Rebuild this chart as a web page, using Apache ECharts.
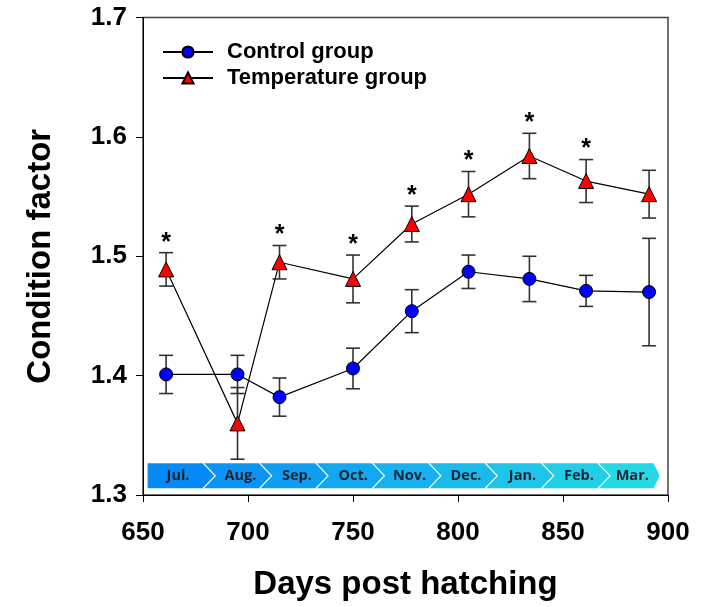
<!DOCTYPE html>
<html><head><meta charset="utf-8">
<script src="https://cdn.jsdelivr.net/npm/echarts@6/dist/echarts.min.js"></script>
<style>html,body{margin:0;padding:0;background:#fff}#c{width:702px;height:607px}</style>
</head><body><div id="c"></div>
<script>
// ---- data ----
const days = [661, 695, 715, 750, 778, 805, 834, 861, 891];
const controlMean = [1.401, 1.401, 1.382, 1.406, 1.454, 1.487, 1.481, 1.471, 1.470];
const controlSE   = [0.016, 0.016, 0.016, 0.017, 0.018, 0.014, 0.019, 0.013, 0.045];
const tempMean    = [1.489, 1.360, 1.495, 1.481, 1.527, 1.552, 1.584, 1.563, 1.552];
const tempSE      = [0.014, 0.030, 0.014, 0.020, 0.015, 0.019, 0.019, 0.018, 0.020];
const significant = [1, 0, 1, 1, 1, 1, 1, 1, 0];
const months = ['Jul.', 'Aug.', 'Sep.', 'Oct.', 'Nov.', 'Dec.', 'Jan.', 'Feb.', 'Mar.'];

// ---- layout constants ----
const FONT = '"Liberation Sans", Arial, Helvetica, sans-serif';
const bandStartDay = 652.2, bandPeriod = 26.86, bandTopVal = 1.3266, bandBotVal = 1.3056;
const colA = [8, 138, 246], colB = [36, 216, 230];

function mix(i){
  const t = i / (months.length - 1);
  const c = colA.map((a, k) => Math.round(a + (colB[k] - a) * t));
  return 'rgb(' + c.join(',') + ')';
}

function errSeries(name, vals, errs, stars){
  return {
    type: 'custom', name: name, coordinateSystem: 'cartesian2d', silent: true, z: 3,
    data: days.map((d, i) => [d, vals[i], errs[i], stars ? stars[i] : 0]),
    encode: {x: 0, y: 1},
    renderItem: function(params, api){
      const x = api.value(0), y = api.value(1), e = api.value(2), s = api.value(3);
      const top = api.coord([x, y + e]), bot = api.coord([x, y - e]);
      const hw = 7, st = {stroke: '#333', lineWidth: 1.6};
      const ch = [
        {type: 'line', shape: {x1: top[0], y1: top[1], x2: bot[0], y2: bot[1]}, style: st},
        {type: 'line', shape: {x1: top[0] - hw, y1: top[1], x2: top[0] + hw, y2: top[1]}, style: st},
        {type: 'line', shape: {x1: bot[0] - hw, y1: bot[1], x2: bot[0] + hw, y2: bot[1]}, style: st}
      ];
      if (s) ch.push({type: 'text', x: top[0], y: top[1] - 10,
        style: {text: '*', font: 'bold 25px ' + FONT, fill: '#000', align: 'center', verticalAlign: 'middle'}});
      return {type: 'group', children: ch};
    }
  };
}

const bandSeries = {
  type: 'custom', coordinateSystem: 'cartesian2d', silent: true, z: 1,
  data: months.map((m, i) => [bandStartDay + i * bandPeriod, bandTopVal]),
  encode: {x: 0, y: 1},
  renderItem: function(params, api){
    const i = params.dataIndex;
    const a = api.coord([api.value(0), bandTopVal]);
    const b = api.coord([api.value(0) + bandPeriod, bandBotVal]);
    const x0 = a[0], top = a[1], bot = b[1], mid = (top + bot) / 2;
    const xr = b[0] - 1.6;
    const d = 12, dr = (i === months.length - 1) ? 6 : d;
    const pts = [[x0, top], [xr, top], [xr + dr, mid], [xr, bot], [x0, bot]];
    if (i > 0) pts.push([x0 + d, mid]);
    return {type: 'group', children: [
      {type: 'polygon', shape: {points: pts}, style: {fill: mix(i)}},
      {type: 'text', x: (i > 0 ? (x0 + d + xr + dr) / 2 : (x0 + xr + dr) / 2) - 3, y: mid + 0.5,
        style: {text: months[i], font: 'bold 14.5px "Open Sans", ' + FONT, fill: '#1b2433', align: 'center', verticalAlign: 'middle'}}
    ]};
  }
};

const chart = echarts.init(document.getElementById('c'), null, {renderer: 'canvas'});
chart.setOption({
  animation: false,
  backgroundColor: '#fff',
  grid: {left: 143, right: 34, top: 17.5, bottom: 112, show: true, borderColor: '#444', borderWidth: 1.5, backgroundColor: 'transparent'},
  legend: {
    orient: 'vertical', left: 162, top: 41, padding: 0, itemWidth: 50, itemHeight: 14, itemGap: 4,
    data: ['Control group', 'Temperature group'],
    textStyle: {fontFamily: FONT, fontWeight: 'bold', fontSize: 22, color: '#000', padding: [0, 0, 0, 9]}
  },
  xAxis: {
    type: 'value', min: 650, max: 900, interval: 50,
    axisLine: {show: true, lineStyle: {color: '#000', width: 1}},
    axisTick: {show: true, length: 7, lineStyle: {color: '#000', width: 1}},
    splitLine: {show: false},
    axisLabel: {margin: 25, fontFamily: FONT, fontWeight: 'bold', fontSize: 26, color: '#000'},
    name: 'Days post hatching', nameLocation: 'middle', nameGap: 73,
    nameTextStyle: {fontFamily: FONT, fontWeight: 'bold', fontSize: 33, color: '#000'}
  },
  yAxis: {
    type: 'value', min: 1.3, max: 1.7, interval: 0.1,
    axisLine: {show: true, lineStyle: {color: '#000', width: 1}},
    axisTick: {show: true, length: 7, lineStyle: {color: '#000', width: 1}},
    splitLine: {show: false},
    axisLabel: {margin: 16, fontFamily: FONT, fontWeight: 'bold', fontSize: 26, color: '#000',
      formatter: v => v.toFixed(1)},
    name: 'Condition factor', nameLocation: 'middle', nameGap: 86,
    nameTextStyle: {fontFamily: FONT, fontWeight: 'bold', fontSize: 33, color: '#000'}
  },
  series: [
    bandSeries,
    errSeries('Control SE', controlMean, controlSE, null),
    errSeries('Temperature SE', tempMean, tempSE, significant),
    {
      name: 'Control group', type: 'line', z: 4,
      data: days.map((d, i) => [d, controlMean[i]]),
      symbol: 'circle', symbolSize: 13, showAllSymbol: true,
      lineStyle: {color: '#000', width: 1.2},
      itemStyle: {color: '#0000ff', borderColor: '#000', borderWidth: 1}
    },
    {
      name: 'Temperature group', type: 'line', z: 5,
      data: days.map((d, i) => [d, tempMean[i]]),
      symbol: 'triangle', symbolSize: 15, showAllSymbol: true,
      lineStyle: {color: '#000', width: 1.2},
      itemStyle: {color: '#ff0000', borderColor: '#000', borderWidth: 1}
    }
  ]
});
</script>
</body></html>
